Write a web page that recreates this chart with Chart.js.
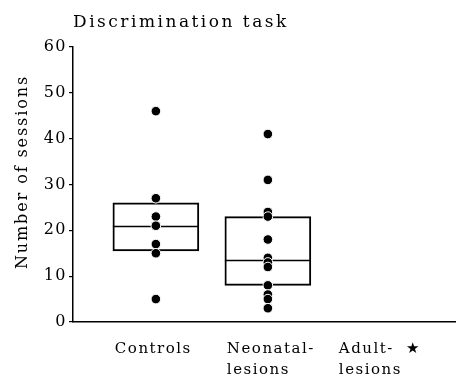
<!DOCTYPE html>
<html>
<head>
<meta charset="utf-8">
<script src="https://cdn.jsdelivr.net/npm/chart.js@4.4.1/dist/chart.umd.min.js"></script>
<style>
	html, body { margin: 0; background: #fff; overflow: hidden; }
	#wrap { width: 456px; height: 377px; }
</style>
</head>
<body>
<div id="wrap"><canvas id="chart"></canvas></div>
<script>
const title = "Discrimination task";
const yTitle = "Number of sessions";
const groupLabels = [["Controls"], ["Neonatal-", "lesions"], ["Adult-  \u2605", "lesions"]];
const groupPos = [1, 2, 3];

// individual animals
const controls = [46, 27, 23, 21, 17, 15, 5];
const neonatal = [41, 31, 24, 23, 18, 14, 13, 12, 8, 6, 5, 3];

// box = interquartile range, line = median
const boxLow = [15.5, 8];
const boxHigh = [26, 23];
const medians = [21, 13.5];

const yTicks = [0, 10, 20, 30, 40, 50, 60];

const FONT = "'DejaVu Serif', serif";

const textPlugin = {
	id: "textPlugin",
	beforeDatasetsDraw(chart) {
		// median lines go under the dots
		const ctx = chart.ctx;
		const meta = chart.getDatasetMeta(2);
		const y = chart.scales.y;
		ctx.save();
		ctx.strokeStyle = "#000";
		ctx.lineWidth = 1.3;
		meta.data.forEach((bar, i) => {
			const py = Math.round(y.getPixelForValue(medians[i])) + 0.5;
			ctx.beginPath();
			ctx.moveTo(bar.x - bar.width / 2, py);
			ctx.lineTo(bar.x + bar.width / 2, py);
			ctx.stroke();
		});
		ctx.restore();
	},
	afterDraw(chart) {
		const ctx = chart.ctx;
		const x = chart.scales.x;
		ctx.save();
		ctx.fillStyle = "#000";
		ctx.letterSpacing = "2.5px";
		ctx.font = "17px " + FONT;
		ctx.textAlign = "left";
		ctx.textBaseline = "alphabetic";
		ctx.fillText(title, 73, 27);

		ctx.letterSpacing = "1.9px";
		ctx.font = "16px " + FONT;
		ctx.save();
		ctx.translate(27, 172);
		ctx.rotate(-Math.PI / 2);
		ctx.textAlign = "center";
		ctx.fillText(yTitle, 0, 0);
		ctx.restore();

		ctx.letterSpacing = "1.5px";
		ctx.font = "15px " + FONT;
		ctx.textAlign = "left";
		groupLabels.forEach((lines, i) => {
			const px = x.getPixelForValue(groupPos[i]) - 41;
			lines.forEach((line, j) => ctx.fillText(line, px, 353 + j * 21));
		});
		ctx.restore();
	}
};

new Chart(document.getElementById("chart"), {
	type: "scatter",
	data: {
		datasets: [
			{
				data: controls.map((v) => ({ x: groupPos[0], y: v })),
				pointRadius: 4.8,
				pointBackgroundColor: "#000",
				pointBorderColor: "#fff",
				pointBorderWidth: 1
			},
			{
				data: neonatal.map((v) => ({ x: groupPos[1], y: v })),
				pointRadius: 4.8,
				pointBackgroundColor: "#000",
				pointBorderColor: "#fff",
				pointBorderWidth: 1
			},
			{
				type: "bar",
				data: boxLow.map((lo, i) => ({ x: groupPos[i], y: [lo, boxHigh[i]] })),
				barThickness: 86,
				backgroundColor: "rgba(0,0,0,0)",
				borderColor: "#000",
				borderWidth: 1.3,
				borderSkipped: false,
				grouped: false
			}
		]
	},
	options: {
		responsive: true,
		maintainAspectRatio: false,
		animation: false,
		layout: { autoPadding: false, padding: { top: 47, left: 0, right: 0, bottom: 0 } },
		plugins: { legend: { display: false }, tooltip: { enabled: false } },
		scales: {
			x: {
				type: "linear",
				offset: false,
				min: 0.26,
				max: 3.68,
				grid: { display: false, offset: false },
				ticks: { display: false },
				border: { color: "#000", width: 1.5 },
				afterFit: (s) => { s.height = 55; }
			},
			y: {
				min: 0,
				max: 60,
				afterBuildTicks: (s) => { s.ticks = yTicks.map((v) => ({ value: v })); },
				grid: { drawOnChartArea: false, tickLength: 4, color: "#000", lineWidth: 1.2 },
				border: { color: "#000", width: 1.5 },
				ticks: { color: "#000", padding: 2, font: { family: FONT, size: 16 } },
				afterFit: (s) => { s.width = 73; }
			}
		}
	},
	plugins: [textPlugin, {
		id: "spacing",
		beforeDraw(chart) { chart.ctx.letterSpacing = "1.5px"; }
	}]
});
</script>
</body>
</html>
